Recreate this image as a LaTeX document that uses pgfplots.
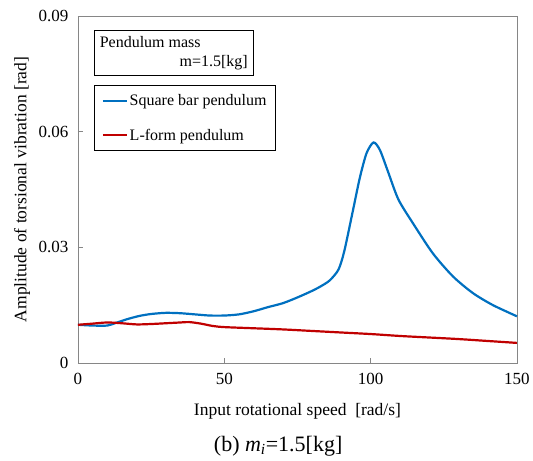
\documentclass[border=0pt]{standalone}
\usepackage{fontspec}
\setmainfont{Liberation Serif}
\usepackage{pgfplots}
\pgfplotsset{compat=1.18}
\definecolor{sqblue}{RGB}{0,112,192}
\definecolor{lred}{RGB}{192,0,0}
\definecolor{framegray}{RGB}{134,134,134}
\begin{document}
\begin{tikzpicture}
\path (-78bp,-98bp) rectangle (455bp,363bp);
\begin{axis}[
  at={(0,0)}, anchor=south west,
  scale only axis, width=439bp, height=347bp,
  xmin=0, xmax=150, ymin=0, ymax=0.09,
  xtick={0,50,100,150}, ytick={0,0.03,0.06,0.09},
  tick pos=left, tick align=inside, major tick length=5bp,
  axis line style={framegray, line width=0.8bp},
  tick style={framegray, line width=0.8bp},
  /pgf/number format/assume math mode=true,
  yticklabel style={/pgf/number format/fixed, /pgf/number format/precision=2, font=\fontsize{17bp}{20bp}\selectfont, xshift=-6bp},
  xticklabel style={font=\fontsize{17bp}{20bp}\selectfont, yshift=-7bp},
  scaled y ticks=false,
  clip=false,
  xlabel={Input rotational speed\ \ [rad/s]},
  ylabel={Amplitude of torsional vibration [rad]},
  xlabel style={at={(axis description cs:0.5,-0.138)}, anchor=center, font=\fontsize{17.5bp}{21bp}\selectfont},
  ylabel style={at={(axis description cs:-0.1276,0.5)}, anchor=center, font=\fontsize{17.5bp}{21bp}\selectfont},
  legend style={at={(rel axis cs:0.0375,0.801)}, anchor=north west, draw=black, line width=0.6bp,
    font=\fontsize{16bp}{19bp}\selectfont, inner xsep=7bp, inner ysep=7bp, row sep=18bp,
    nodes={inner sep=2bp}},
  legend cell align=left,
  legend image code/.code={\draw[#1, line width=2bp] (0bp,0bp) -- (24bp,0bp);},
]
\addplot[sqblue, line width=2.2bp, smooth, tension=0.45] coordinates {
(0,0.0099) (5,0.0097) (10,0.0097) (13,0.0104) (17,0.0114) (21,0.0122) (25,0.0127)
(30,0.0130) (35,0.0129) (40,0.0126) (45,0.0123) (50,0.0123) (55,0.0126) (60,0.0134)
(65,0.0145) (70,0.0155) (75,0.0170) (80,0.0187) (83,0.0199) (86,0.0214) (89,0.0242)
(91,0.0290) (94,0.0397) (96.3,0.0480) (98.6,0.0544) (101,0.0572)
(103.2,0.0552) (106,0.0495) (109.5,0.0424)
(114.5,0.0362) (121.3,0.0284) (128.2,0.0224) (135,0.0181)
(141.8,0.0150) (150,0.0121)};
\addlegendentry{Square bar pendulum}
\addplot[lred, line width=2.2bp, smooth, tension=0.5] coordinates {
(0,0.0099) (5,0.0102) (10,0.0105) (15,0.0103) (20,0.0100) (25,0.0101) (30,0.0103)
(35,0.0105) (38,0.0106) (42,0.0102) (46,0.0096) (50,0.0093) (60,0.0090) (70,0.0087)
(80,0.0083) (90,0.0079) (100,0.0075) (110,0.0070) (120,0.0066) (130,0.0062)
(140,0.0057) (150,0.0052)};
\addlegendentry{L-form pendulum}
\node[draw=black, line width=0.6bp, anchor=north west, minimum width=159bp, minimum height=45bp,
  inner sep=4bp, font=\fontsize{16bp}{19bp}\selectfont]
  at (rel axis cs:0.0364,0.9597)
  {\parbox{148bp}{Pendulum mass\\\mbox{}\hfill m=1.5[kg]}};
\node[font=\fontsize{22bp}{26bp}\selectfont, anchor=center] at (axis description cs:0.456,-0.239)
  {(b) \textit{m\textsubscript{i}}=1.5[kg]};
\end{axis}
\end{tikzpicture}
\end{document}
